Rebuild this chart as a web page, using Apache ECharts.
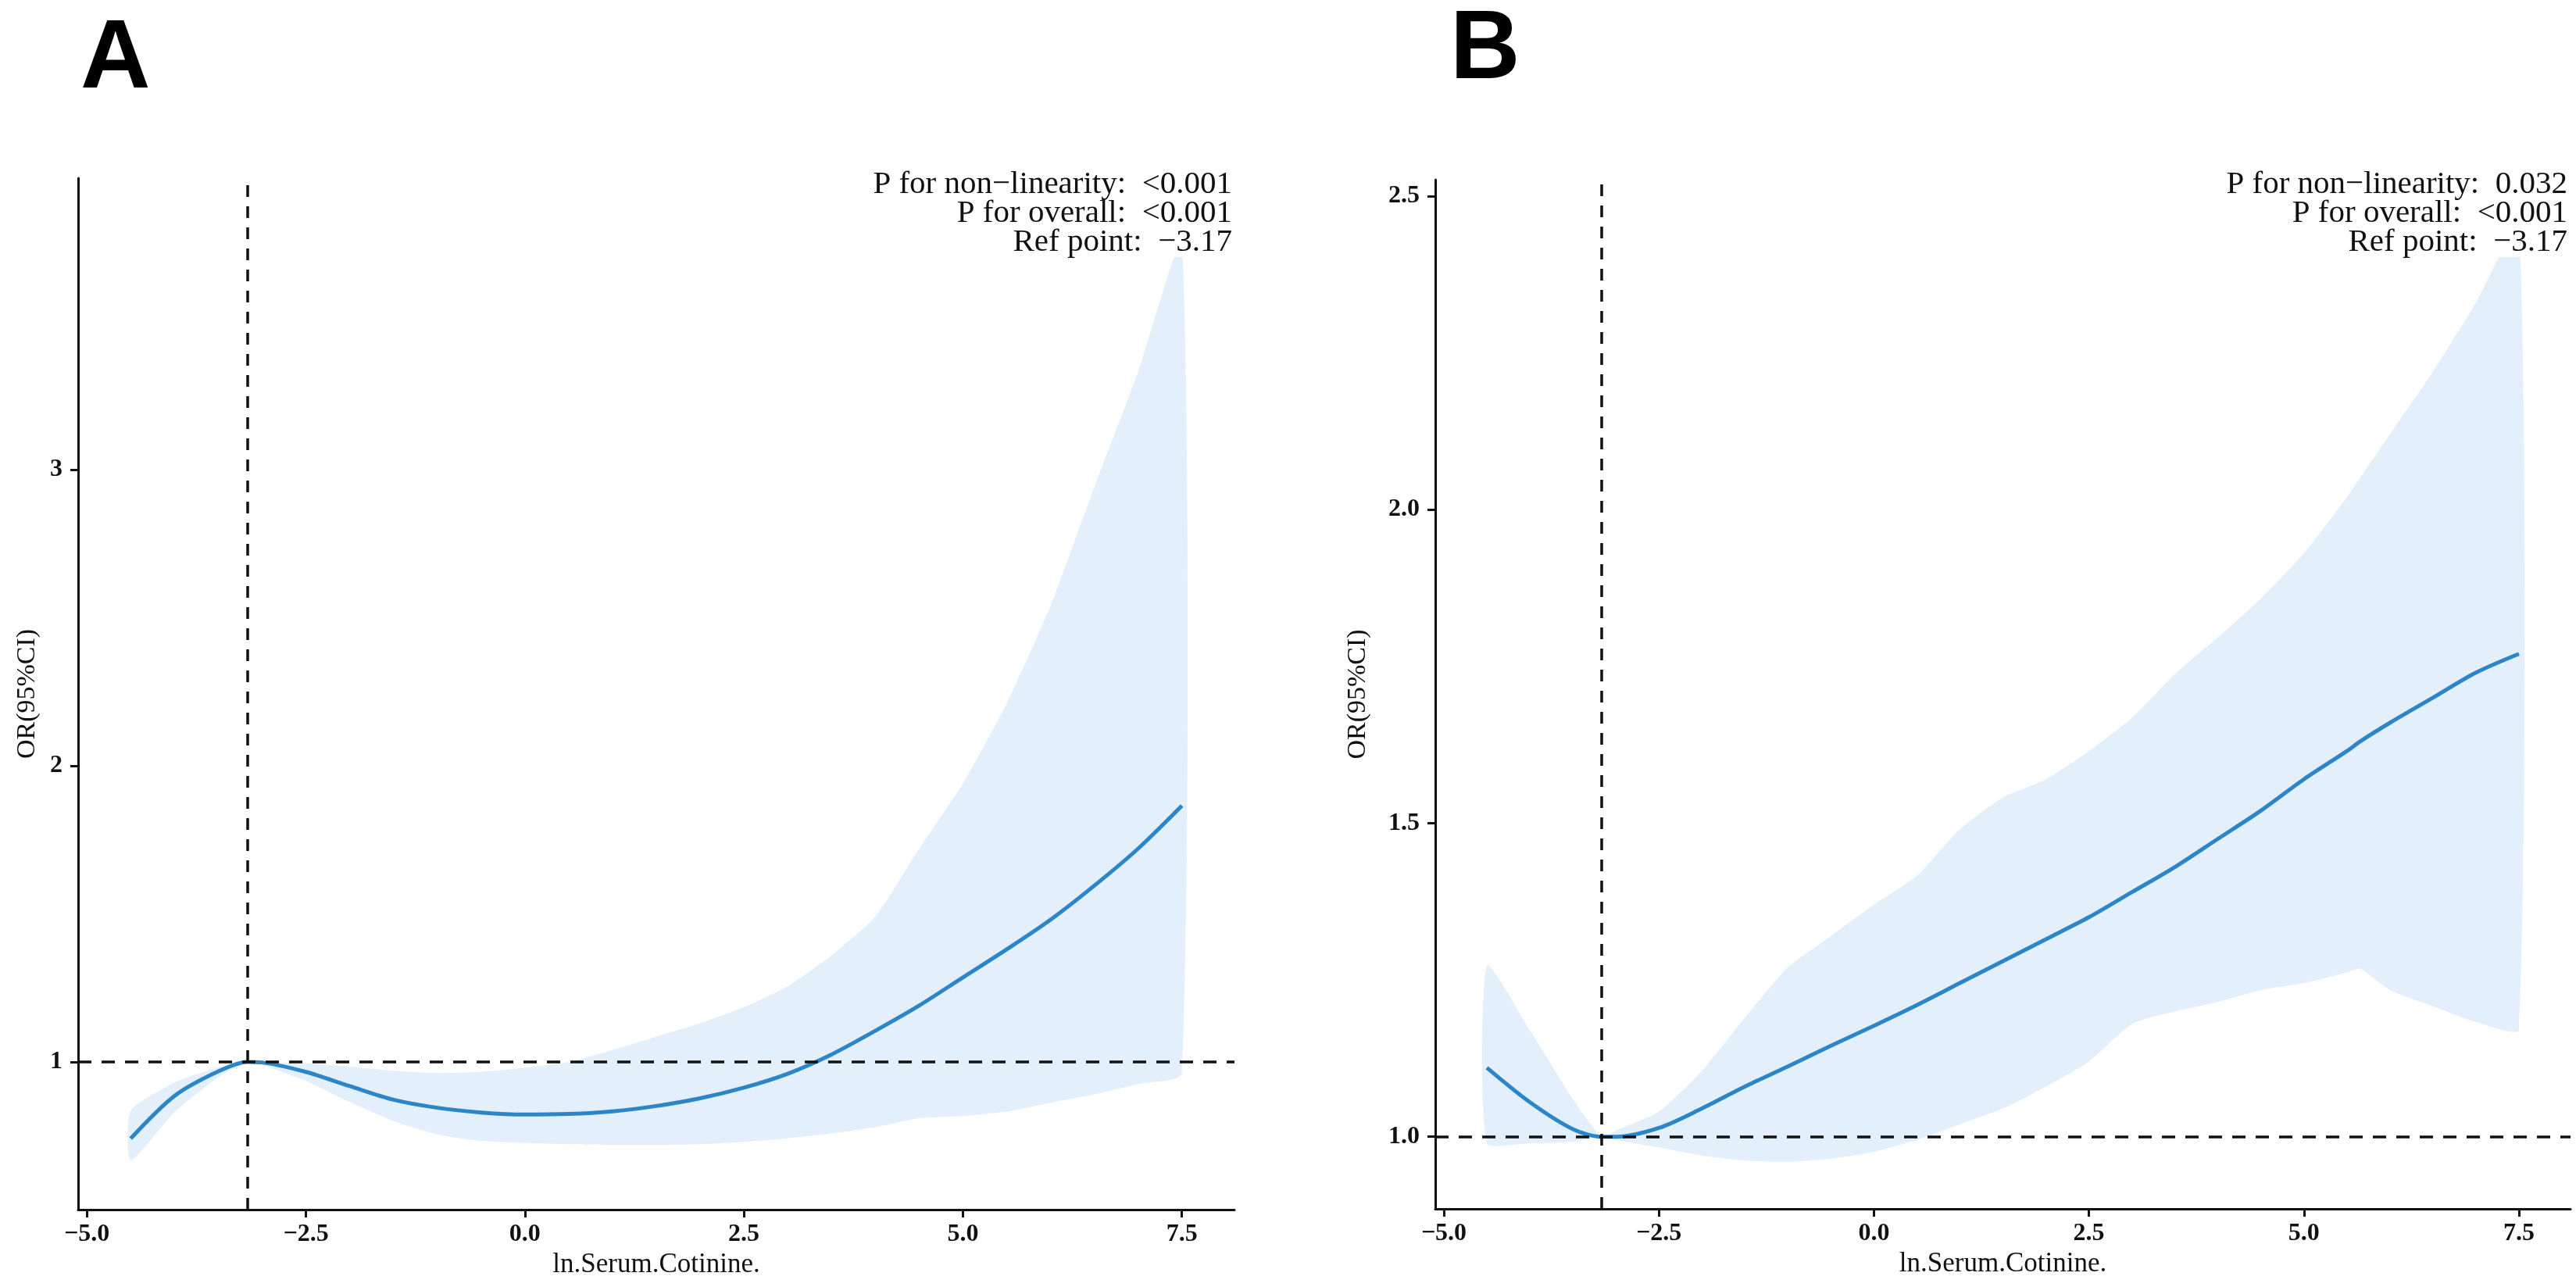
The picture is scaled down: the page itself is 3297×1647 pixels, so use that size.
<!DOCTYPE html>
<html>
<head>
<meta charset="utf-8">
<script src="https://cdn.jsdelivr.net/npm/echarts@6/dist/echarts.min.js"></script>
<style>
  html, body { margin: 0; padding: 0; background: #fff; }
  #chart { width: 3297px; height: 1647px; }
</style>
</head>
<body>
<div id="chart"></div>
<script>
// panel A: ln.Serum.Cotinine. vs OR, with 95% CI
var aX     = [-4.5, -4.0, -3.5, -3.17, -3.0, -2.5, -2.0, -1.5, -1.0, -0.5, 0, 0.5, 1.0, 1.5, 2.0, 2.5, 3.0, 3.5, 4.0, 4.5, 5.0, 5.5, 6.0, 6.5, 7.0, 7.5];
var aOR    = [0.741, 0.885, 0.968, 1.0, 0.998, 0.966, 0.918, 0.872, 0.845, 0.829, 0.822, 0.824, 0.833, 0.851, 0.877, 0.913, 0.96, 1.025, 1.105, 1.19, 1.285, 1.38, 1.48, 1.595, 1.72, 1.865];
var aUpper = [0.835, 0.93, 0.982, 1.0, 1.0, 0.995, 0.984, 0.97, 0.962, 0.967, 0.98, 1.0, 1.04, 1.085, 1.13, 1.185, 1.255, 1.36, 1.49, 1.72, 1.94, 2.21, 2.54, 2.94, 3.33, 3.76];
var aLower = [0.667, 0.83, 0.948, 1.0, 0.99, 0.936, 0.865, 0.80, 0.755, 0.733, 0.726, 0.722, 0.72, 0.72, 0.722, 0.73, 0.742, 0.758, 0.78, 0.81, 0.817, 0.832, 0.862, 0.89, 0.925, 0.962];

// panel B
var bX     = [-4.5, -4.0, -3.5, -3.17, -3.0, -2.5, -2.0, -1.5, -1.0, -0.5, 0, 0.5, 1.0, 1.5, 2.0, 2.5, 3.0, 3.5, 4.0, 4.5, 5.0, 5.5, 5.65, 6.0, 6.5, 7.0, 7.5];
var bOR    = [1.11, 1.055, 1.012, 1.0, 1.0, 1.014, 1.045, 1.08, 1.112, 1.145, 1.177, 1.21, 1.245, 1.28, 1.315, 1.35, 1.39, 1.43, 1.475, 1.52, 1.57, 1.615, 1.63, 1.66, 1.70, 1.74, 1.77];
var bUpper = [1.273, 1.17, 1.06, 1.0, 1.01, 1.04, 1.105, 1.19, 1.27, 1.32, 1.37, 1.416, 1.49, 1.541, 1.57, 1.615, 1.668, 1.738, 1.796, 1.858, 1.93, 2.02, 2.05, 2.12, 2.22, 2.33, 2.45];
var bLower = [0.99, 0.99, 0.992, 1.0, 0.995, 0.983, 0.97, 0.962, 0.96, 0.965, 0.976, 0.995, 1.02, 1.045, 1.08, 1.12, 1.18, 1.2, 1.215, 1.234, 1.245, 1.262, 1.268, 1.234, 1.208, 1.183, 1.171];

var refX = -3.17;
var refY = 1;

var xTicks  = [-5.0, -2.5, 0.0, 2.5, 5.0, 7.5];
var aYTicks = [1, 2, 3];
var bYTicks = [1.0, 1.5, 2.0, 2.5];

var aNotes = ['P for non\u2212linearity:  <0.001', 'P for overall:  <0.001', 'Ref point:  \u22123.17'];
var bNotes = ['P for non\u2212linearity:  0.032', 'P for overall:  <0.001', 'Ref point:  \u22123.17'];

var xName = 'ln.Serum.Cotinine.';
var yName = 'OR(95%CI)';

var SERIF = '"Liberation Serif", "Times New Roman", serif';
var SANS = '"Liberation Sans", Arial, sans-serif';
var LINE = '#2b85c7';
var BAND = '#e3effa';

function fmt1(v) {
    return (v < 0 ? '\u2212' : '') + Math.abs(v).toFixed(1);
}

function pairs(xs, ys) {
    var out = [];
    for (var i = 0; i < xs.length; i++) {
        out.push([xs[i], ys[i]]);
    }
    return out;
}

function triples(xs, lo, hi) {
    var out = [];
    for (var i = 0; i < xs.length; i++) {
        out.push([xs[i], lo[i], hi[i]]);
    }
    return out;
}

function makeXAxis(idx) {
    return {
        type: 'value', gridIndex: idx, min: -5.1, max: 8.1,
        name: xName, nameLocation: 'middle', nameGap: 50,
        nameTextStyle: { fontFamily: SERIF, fontSize: 35, color: '#111' },
        axisLine: { show: true, onZero: false, lineStyle: { color: '#111', width: 3 } },
        axisTick: { show: true, length: 10, customValues: xTicks, lineStyle: { color: '#111', width: 3 } },
        axisLabel: { customValues: xTicks, formatter: fmt1, margin: 16, fontFamily: SERIF, fontWeight: 'bold', fontSize: 32, color: '#111' },
        splitLine: { show: false }
    };
}

function makeYAxis(idx, min, max, ticks, fmt, gap) {
    return {
        type: 'value', gridIndex: idx, min: min, max: max,
        name: yName, nameLocation: 'middle', nameGap: gap,
        nameTextStyle: { fontFamily: SERIF, fontSize: 34, color: '#111' },
        axisLine: { show: true, onZero: false, lineStyle: { color: '#111', width: 3 } },
        axisTick: { show: true, length: 10, customValues: ticks, lineStyle: { color: '#111', width: 3 } },
        axisLabel: { customValues: ticks, formatter: fmt, margin: 20, fontFamily: SERIF, fontWeight: 'bold', fontSize: 32, color: '#111' },
        splitLine: { show: false }
    };
}

// the CI ribbon: one polygon, upper edge left->right then lower edge back
function bandSeries(idx, xs, lo, hi) {
    return {
        type: 'custom', xAxisIndex: idx, yAxisIndex: idx,
        data: triples(xs, lo, hi), silent: true, z: 1,
        encode: { x: 0, y: [1, 2] },
        renderItem: function (params, api) {
            if (params.dataIndex !== 0) {
                return;
            }
            var pts = [];
            for (var i = 0; i < xs.length; i++) {
                pts.push(api.coord([xs[i], hi[i]]));
            }
            for (var j = xs.length - 1; j >= 0; j--) {
                pts.push(api.coord([xs[j], lo[j]]));
            }
            return {
                type: 'polygon',
                shape: { points: pts, smooth: 0.2 },
                style: { fill: BAND, stroke: null }
            };
        }
    };
}

function curveSeries(idx, xs, ys) {
    return {
        type: 'line', xAxisIndex: idx, yAxisIndex: idx,
        data: pairs(xs, ys), smooth: 0.3, showSymbol: false,
        lineStyle: { color: LINE, width: 5 }, z: 3,
        markLine: {
            silent: true, symbol: ['none', 'none'], label: { show: false },
            animation: false,
            data: [
                { xAxis: refX, lineStyle: { color: '#111', width: 3.5, type: [15, 12] } },
                { yAxis: refY, lineStyle: { color: '#111', width: 3.5, type: [17, 13] } }
            ]
        }
    };
}

function noteText(x, lines) {
    return {
        type: 'text', x: x, y: 218, z: 100,
        style: {
            text: lines.join('\n'), align: 'right', verticalAlign: 'top',
            fontFamily: SERIF, fontSize: 41, lineHeight: 37, fill: '#111',
            backgroundColor: '#fff'
        }
    };
}

var series = [
    bandSeries(0, aX, aLower, aUpper),
    curveSeries(0, aX, aOR),
    bandSeries(1, bX, bLower, bUpper),
    curveSeries(1, bX, bOR)
];

var option = {
    backgroundColor: '#fff',
    animation: false,
    grid: [
        { left: 100, top: 228, width: 1480, height: 1320, outerBoundsMode: 'none' },
        { left: 1837, top: 230, width: 1453, height: 1317, outerBoundsMode: 'none' }
    ],
    xAxis: [makeXAxis(0), makeXAxis(1)],
    yAxis: [
        makeYAxis(0, 0.501, 3.984, aYTicks, function (v) { return String(Math.round(v)); }, 48),
        makeYAxis(1, 0.885, 2.526, bYTicks, fmt1, 82)
    ],
    series: series,
    graphic: [
        { type: 'text', x: 103, y: 16, z: 100, style: { text: 'A', fontFamily: SANS, fontWeight: 'bold', fontSize: 124, fill: '#000' } },
        { type: 'text', x: 1856, y: 4, z: 100, style: { text: 'B', fontFamily: SANS, fontWeight: 'bold', fontSize: 124, fill: '#000' } },
        noteText(1577, aNotes),
        noteText(3286, bNotes)
    ]
};

var myChart = echarts.init(document.getElementById('chart'));
myChart.setOption(option);
</script>
</body>
</html>
